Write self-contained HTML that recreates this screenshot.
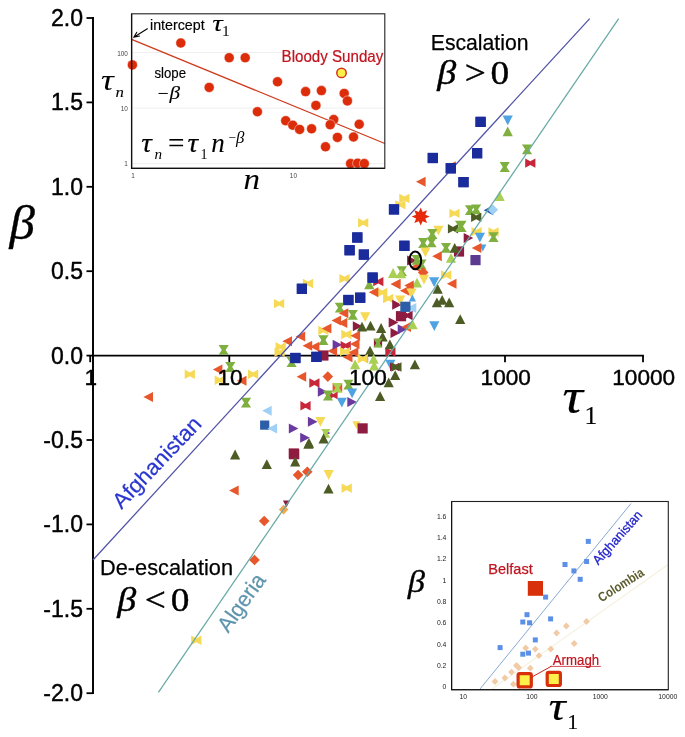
<!DOCTYPE html>
<html lang="en"><head><meta charset="utf-8"><title>Escalation plot</title>
<style>html,body{margin:0;padding:0;background:#fff}svg{display:block}text{white-space:pre}.s{font-family:"Liberation Sans",sans-serif}.r{font-family:"Liberation Serif",serif}</style></head>
<body>
<svg width="685" height="737" viewBox="0 0 685 737">
<rect width="685" height="737" fill="#fff"/>
<line x1="93" y1="17.1" x2="93" y2="694.1" stroke="#000" stroke-width="1.95"/>
<line x1="92.2" y1="355.6" x2="643.9" y2="355.6" stroke="#000" stroke-width="1.9"/>
<line x1="86.5" y1="18.0" x2="93" y2="18.0" stroke="#000" stroke-width="1.8"/>
<text x="83.0" y="25.9" font-size="23.0" class="s" fill="#000" text-anchor="end" stroke="#000" stroke-width="0.42" stroke-linejoin="round" >2.0</text>
<line x1="86.5" y1="102.4" x2="93" y2="102.4" stroke="#000" stroke-width="1.8"/>
<text x="83.0" y="110.3" font-size="23.0" class="s" fill="#000" text-anchor="end" stroke="#000" stroke-width="0.42" stroke-linejoin="round" >1.5</text>
<line x1="86.5" y1="186.8" x2="93" y2="186.8" stroke="#000" stroke-width="1.8"/>
<text x="83.0" y="194.7" font-size="23.0" class="s" fill="#000" text-anchor="end" stroke="#000" stroke-width="0.42" stroke-linejoin="round" >1.0</text>
<line x1="86.5" y1="271.2" x2="93" y2="271.2" stroke="#000" stroke-width="1.8"/>
<text x="83.0" y="279.1" font-size="23.0" class="s" fill="#000" text-anchor="end" stroke="#000" stroke-width="0.42" stroke-linejoin="round" >0.5</text>
<line x1="86.5" y1="355.6" x2="93" y2="355.6" stroke="#000" stroke-width="1.8"/>
<text x="83.0" y="363.5" font-size="23.0" class="s" fill="#000" text-anchor="end" stroke="#000" stroke-width="0.42" stroke-linejoin="round" >0.0</text>
<line x1="86.5" y1="440.0" x2="93" y2="440.0" stroke="#000" stroke-width="1.8"/>
<text x="83.0" y="447.9" font-size="23.0" class="s" fill="#000" text-anchor="end" stroke="#000" stroke-width="0.42" stroke-linejoin="round" >-0.5</text>
<line x1="86.5" y1="524.4" x2="93" y2="524.4" stroke="#000" stroke-width="1.8"/>
<text x="83.0" y="532.3" font-size="23.0" class="s" fill="#000" text-anchor="end" stroke="#000" stroke-width="0.42" stroke-linejoin="round" >-1.0</text>
<line x1="86.5" y1="608.8" x2="93" y2="608.8" stroke="#000" stroke-width="1.8"/>
<text x="83.0" y="616.7" font-size="23.0" class="s" fill="#000" text-anchor="end" stroke="#000" stroke-width="0.42" stroke-linejoin="round" >-1.5</text>
<line x1="86.5" y1="693.2" x2="93" y2="693.2" stroke="#000" stroke-width="1.8"/>
<text x="83.0" y="701.1" font-size="23.0" class="s" fill="#000" text-anchor="end" stroke="#000" stroke-width="0.42" stroke-linejoin="round" >-2.0</text>
<line x1="90.2" y1="355.6" x2="90.2" y2="362.2" stroke="#000" stroke-width="1.8"/>
<line x1="229.3" y1="355.6" x2="229.3" y2="362.2" stroke="#000" stroke-width="1.8"/>
<line x1="367.2" y1="355.6" x2="367.2" y2="362.2" stroke="#000" stroke-width="1.8"/>
<line x1="505" y1="355.6" x2="505" y2="362.2" stroke="#000" stroke-width="1.8"/>
<line x1="643" y1="355.6" x2="643" y2="362.2" stroke="#000" stroke-width="1.8"/>
<polygon points="446.2,166.2 455.8,161.2 455.8,171.2" fill="#e8562b"/>
<rect x="475.5" y="116.8" width="10.2" height="10.2" fill="#1a2b9b"/>
<rect x="427.7" y="152.9" width="10.2" height="10.2" fill="#1a2b9b"/>
<rect x="472.0" y="148.1" width="10.2" height="10.2" fill="#1a2b9b"/>
<rect x="445.7" y="163.2" width="10.2" height="10.2" fill="#1a2b9b"/>
<rect x="458.4" y="177.0" width="10.2" height="10.2" fill="#1a2b9b"/>
<polygon points="416.0,181.7 425.6,176.7 425.6,186.7" fill="#e8562b"/>
<polygon points="507.7,126.4 512.8,136.2 502.6,136.2" fill="#7fb03f"/>
<polygon points="507.7,125.3 512.8,115.5 502.6,115.5" fill="#4fa3e3"/>
<polygon points="521.9,144.4 532.1,144.4 528.9,149.3 532.1,154.2 521.9,154.2 525.1,149.3" fill="#7fb03f"/>
<polygon points="499.6,162.1 509.8,162.1 506.6,167.0 509.8,171.9 499.6,171.9 502.8,167.0" fill="#7fb03f"/>
<polygon points="525.2,158.4 530.3,161.2 535.4,158.4 535.4,167.8 530.3,165.0 525.2,167.8" fill="#c8263a"/>
<polygon points="499.6,191.1 504.7,200.9 494.5,200.9" fill="#a9cf54"/>
<polygon points="395.3,200.2 400.4,203.0 405.5,200.2 405.5,209.6 400.4,206.8 395.3,209.6" fill="#f6d955"/>
<polygon points="399.3,193.8 404.4,196.6 409.5,193.8 409.5,203.2 404.4,200.4 399.3,203.2" fill="#f6d955"/>
<rect x="388.9" y="204.3" width="10.2" height="10.2" fill="#1a2b9b"/>
<polygon points="464.9,205.2 475.1,205.2 471.9,210.1 475.1,215.0 464.9,215.0 468.1,210.1" fill="#7fb03f"/>
<polygon points="471.1,204.4 481.3,204.4 478.1,209.3 481.3,214.2 471.1,214.2 474.3,209.3" fill="#7fb03f"/>
<polygon points="449.4,208.7 454.5,211.5 459.6,208.7 459.6,218.1 454.5,215.3 449.4,218.1" fill="#f6d955"/>
<polygon points="483.6,210.2 493.2,205.2 493.2,215.2" fill="#2d5fa8"/>
<polygon points="492.8,204.4 498.1,209.7 492.8,215.0 487.5,209.7" fill="#9fd0f5"/>
<polygon points="471.1,212.7 476.2,215.5 481.3,212.7 481.3,222.1 476.2,219.3 471.1,222.1" fill="#4d5c24"/>
<polygon points="447.9,224.1 453.0,226.9 458.1,224.1 458.1,233.5 453.0,230.7 447.9,233.5" fill="#4d5c24"/>
<polygon points="454.9,220.7 466.7,220.7 463.0,226.3 466.7,231.9 454.9,231.9 458.6,226.3" fill="#7fb03f"/>
<polygon points="438.4,235.5 443.5,225.7 433.3,225.7" fill="#f6d955"/>
<polygon points="427.2,229.1 437.4,229.1 434.2,234.0 437.4,238.9 427.2,238.9 430.4,234.0" fill="#7fb03f"/>
<polygon points="418.1,238.1 428.3,238.1 425.1,243.0 428.3,247.9 418.1,247.9 421.3,243.0" fill="#7fb03f"/>
<polygon points="426.5,237.5 436.7,237.5 433.5,242.4 436.7,247.3 426.5,247.3 429.7,242.4" fill="#7fb03f"/>
<polygon points="471.5,226.9 476.6,229.7 481.7,226.9 481.7,236.3 476.6,233.5 471.5,236.3" fill="#f6d955"/>
<polygon points="488.4,227.3 493.5,230.1 498.6,227.3 498.6,236.7 493.5,233.9 488.4,236.7" fill="#f6d955"/>
<polygon points="488.4,232.2 498.6,232.2 495.4,237.1 498.6,242.0 488.4,242.0 491.6,237.1" fill="#7fb03f"/>
<polygon points="479.9,242.6 485.0,232.8 474.8,232.8" fill="#4fa3e3"/>
<polygon points="473.3,238.0 463.7,233.0 463.7,243.0" fill="#8e1b40"/>
<rect x="399.3" y="240.7" width="10.2" height="10.2" fill="#1a2b9b"/>
<rect x="453.9" y="246.4" width="10.2" height="10.2" fill="#8e1b40"/>
<polygon points="440.9,242.9 451.1,242.9 447.9,247.8 451.1,252.7 440.9,252.7 444.1,247.8" fill="#7fb03f"/>
<polygon points="482.8,251.4 486.4,244.6 479.2,244.6" fill="#4fa3e3"/>
<polygon points="471.8,248.0 481.4,243.0 481.4,253.0" fill="#e8562b"/>
<polygon points="454.7,242.9 459.8,252.7 449.6,252.7" fill="#4d5c24"/>
<polygon points="425.4,257.3 430.5,247.5 420.3,247.5" fill="#f6d955"/>
<polygon points="432.2,256.2 441.8,251.2 441.8,261.2" fill="#e8562b"/>
<polygon points="451.0,253.0 456.1,262.8 445.9,262.8" fill="#a9cf54"/>
<rect x="470.4" y="255.0" width="10.2" height="10.2" fill="#5b3a92"/>
<polygon points="410.5,267.0 420.1,262.0 420.1,272.0" fill="#e8562b"/>
<polygon points="416.7,260.6 407.1,255.6 407.1,265.6" fill="#8e1b40"/>
<polygon points="411.5,255.0 421.7,255.0 418.5,259.9 421.7,264.8 411.5,264.8 414.7,259.9" fill="#7fb03f"/>
<polygon points="416.4,259.6 426.6,259.6 423.4,264.5 426.6,269.4 416.4,269.4 419.6,264.5" fill="#7fb03f"/>
<polygon points="396.8,266.3 407.0,266.3 403.8,271.2 407.0,276.1 396.8,276.1 400.0,271.2" fill="#7fb03f"/>
<polygon points="423.2,267.2 428.5,272.5 423.2,277.8 417.9,272.5" fill="#e8562b"/>
<polygon points="441.1,270.3 446.2,273.1 451.3,270.3 451.3,279.7 446.2,276.9 441.1,279.7" fill="#f6d955"/>
<polygon points="446.9,283.7 456.5,278.7 456.5,288.7" fill="#e8562b"/>
<polygon points="424.0,284.6 429.1,274.8 418.9,274.8" fill="#f6d955"/>
<polygon points="434.1,287.1 439.2,277.3 429.0,277.3" fill="#4fa3e3"/>
<polygon points="417.0,277.7 422.1,287.5 411.9,287.5" fill="#a9cf54"/>
<polygon points="404.2,285.4 413.8,280.4 413.8,290.4" fill="#e8562b"/>
<polygon points="390.8,284.2 400.4,279.2 400.4,289.2" fill="#e8562b"/>
<polygon points="437.7,283.9 442.8,293.7 432.6,293.7" fill="#4d5c24"/>
<polygon points="393.1,268.1 398.2,277.9 388.0,277.9" fill="#a9cf54"/>
<polygon points="401.1,268.4 406.2,278.2 396.0,278.2" fill="#a9cf54"/>
<polygon points="358.1,218.1 363.2,220.9 368.3,218.1 368.3,227.5 363.2,224.7 358.1,227.5" fill="#f6d955"/>
<rect x="352.2" y="232.4" width="10.2" height="10.2" fill="#1a2b9b"/>
<rect x="344.5" y="245.1" width="10.2" height="10.2" fill="#1a2b9b"/>
<rect x="358.8" y="249.5" width="10.2" height="10.2" fill="#1a2b9b"/>
<polygon points="339.4,273.9 344.5,276.7 349.6,273.9 349.6,283.3 344.5,280.5 339.4,283.3" fill="#f6d955"/>
<polygon points="302.9,278.8 308.0,281.6 313.1,278.8 313.1,288.2 308.0,285.4 302.9,288.2" fill="#f6d955"/>
<rect x="296.8" y="283.7" width="10.2" height="10.2" fill="#1a2b9b"/>
<polygon points="369.3,279.5 374.4,289.3 364.2,289.3" fill="#7fb03f"/>
<polygon points="373.2,276.9 378.3,279.7 383.4,276.9 383.4,286.3 378.3,283.5 373.2,286.3" fill="#c8263a"/>
<rect x="367.5" y="272.5" width="10.2" height="10.2" fill="#1a2b9b"/>
<polygon points="274.0,298.9 279.1,301.7 284.2,298.9 284.2,308.3 279.1,305.5 274.0,308.3" fill="#f6d955"/>
<rect x="343.3" y="294.9" width="10.2" height="10.2" fill="#1a2b9b"/>
<rect x="355.1" y="292.6" width="10.2" height="10.2" fill="#1a2b9b"/>
<polygon points="334.8,302.8 345.0,302.8 341.8,307.7 345.0,312.6 334.8,312.6 338.0,307.7" fill="#7fb03f"/>
<polygon points="338.7,313.3 348.3,308.3 348.3,318.3" fill="#e8562b"/>
<polygon points="347.7,309.9 357.9,309.9 354.7,314.8 357.9,319.7 347.7,319.7 350.9,314.8" fill="#7fb03f"/>
<polygon points="331.5,320.5 341.1,315.5 341.1,325.5" fill="#e8562b"/>
<polygon points="337.7,323.0 347.3,318.0 347.3,328.0" fill="#e8562b"/>
<polygon points="318.3,325.7 323.4,328.5 328.5,325.7 328.5,335.1 323.4,332.3 318.3,335.1" fill="#f6d955"/>
<polygon points="321.8,328.6 331.4,323.6 331.4,333.6" fill="#e8562b"/>
<polygon points="295.6,336.5 305.2,331.5 305.2,341.5" fill="#e8562b"/>
<polygon points="282.4,341.3 292.0,336.3 292.0,346.3" fill="#e8562b"/>
<polygon points="323.4,336.7 327.5,344.5 319.3,344.5" fill="#4d5c24"/>
<polygon points="318.3,335.3 328.5,335.3 325.3,340.2 328.5,345.1 318.3,345.1 321.5,340.2" fill="#7fb03f"/>
<polygon points="302.6,345.7 312.2,340.7 312.2,350.7" fill="#e8562b"/>
<polygon points="309.8,346.8 319.4,341.8 319.4,351.8" fill="#e8562b"/>
<polygon points="327.5,351.0 337.1,346.0 337.1,356.0" fill="#e8562b"/>
<polygon points="342.2,344.8 332.6,339.8 332.6,349.8" fill="#6b3aa0"/>
<polygon points="340.6,340.9 345.7,343.7 350.8,340.9 350.8,350.3 345.7,347.5 340.6,350.3" fill="#c8263a"/>
<polygon points="341.3,329.8 346.4,332.6 351.5,329.8 351.5,339.2 346.4,336.4 341.3,339.2" fill="#f6d955"/>
<polygon points="350.5,335.7 360.1,330.7 360.1,340.7" fill="#e8562b"/>
<polygon points="349.9,344.1 359.5,339.1 359.5,349.1" fill="#e8562b"/>
<polygon points="340.0,346.9 345.1,349.7 350.2,346.9 350.2,356.3 345.1,353.5 340.0,356.3" fill="#f6d955"/>
<polygon points="348.8,352.2 358.4,347.2 358.4,357.2" fill="#e8562b"/>
<polygon points="275.6,342.1 280.7,344.9 285.8,342.1 285.8,351.5 280.7,348.7 275.6,351.5" fill="#f6d955"/>
<polygon points="274.5,347.6 279.6,350.4 284.7,347.6 284.7,357.0 279.6,354.2 274.5,357.0" fill="#f6d955"/>
<polygon points="286.5,357.1 296.7,357.1 293.5,362.0 296.7,366.9 286.5,366.9 289.7,362.0" fill="#7fb03f"/>
<rect x="290.3" y="352.9" width="10.2" height="10.2" fill="#1a2b9b"/>
<rect x="318.3" y="350.4" width="10.2" height="10.2" fill="#8e1b40"/>
<rect x="311.3" y="351.8" width="10.2" height="10.2" fill="#1a2b9b"/>
<polygon points="296.6,376.8 306.2,371.8 306.2,381.8" fill="#e8562b"/>
<polygon points="327.8,371.3 333.1,376.6 327.8,381.9 322.5,376.6" fill="#e8562b"/>
<polygon points="309.3,378.3 314.4,381.1 319.5,378.3 319.5,387.7 314.4,384.9 309.3,387.7" fill="#c8263a"/>
<polygon points="365.2,322.1 370.3,312.3 360.1,312.3" fill="#f6d955"/>
<polygon points="362.4,326.2 352.8,321.2 352.8,331.2" fill="#8e1b40"/>
<polygon points="362.0,321.7 367.1,331.5 356.9,331.5" fill="#4d5c24"/>
<polygon points="370.5,320.7 375.6,330.5 365.4,330.5" fill="#4d5c24"/>
<polygon points="381.1,323.1 386.2,332.9 376.0,332.9" fill="#4d5c24"/>
<polygon points="382.6,331.7 387.7,341.5 377.5,341.5" fill="#4d5c24"/>
<polygon points="385.3,347.3 390.4,350.1 395.5,347.3 395.5,356.7 390.4,353.9 385.3,356.7" fill="#c8263a"/>
<polygon points="389.9,339.5 395.0,349.3 384.8,349.3" fill="#4d5c24"/>
<polygon points="370.0,345.7 375.1,355.5 364.9,355.5" fill="#4d5c24"/>
<rect x="373.9" y="338.9" width="8.2" height="8.2" fill="#8e1b40"/>
<polygon points="373.4,338.6 382.6,338.6 379.7,343.0 382.6,347.4 373.4,347.4 376.3,343.0" fill="#7fb03f"/>
<polygon points="398.3,322.4 388.7,317.4 388.7,327.4" fill="#8e1b40"/>
<polygon points="400.1,333.1 390.5,328.1 390.5,338.1" fill="#8e1b40"/>
<polygon points="357.7,354.1 362.8,356.9 367.9,354.1 367.9,363.5 362.8,360.7 357.7,363.5" fill="#f6d955"/>
<polygon points="355.1,359.4 360.2,369.2 350.0,369.2" fill="#a9cf54"/>
<polygon points="373.6,353.9 378.7,363.7 368.5,363.7" fill="#a9cf54"/>
<polygon points="374.2,360.7 379.3,370.5 369.1,370.5" fill="#a9cf54"/>
<polygon points="377.1,287.8 382.2,290.6 387.3,287.8 387.3,297.2 382.2,294.4 377.1,297.2" fill="#f6d955"/>
<polygon points="383.1,293.8 388.2,296.6 393.3,293.8 393.3,303.2 388.2,300.4 383.1,303.2" fill="#f6d955"/>
<polygon points="368.7,292.2 378.3,287.2 378.3,297.2" fill="#e8562b"/>
<polygon points="390.9,283.9 400.5,278.9 400.5,288.9" fill="#e8562b"/>
<polygon points="399.9,290.7 409.5,285.7 409.5,295.7" fill="#e8562b"/>
<polygon points="401.8,304.8 392.2,299.8 392.2,309.8" fill="#8e1b40"/>
<polygon points="400.2,305.4 405.3,295.6 395.1,295.6" fill="#f6d955"/>
<polygon points="411.5,298.2 416.6,288.4 406.4,288.4" fill="#f6d955"/>
<polygon points="412.4,294.6 416.0,301.4 408.8,301.4" fill="#4fa3e3"/>
<polygon points="406.7,308.0 416.3,303.0 416.3,313.0" fill="#9fd0f5"/>
<polygon points="402.4,310.8 407.5,313.6 412.6,310.8 412.6,320.2 407.5,317.4 402.4,320.2" fill="#8e1b40"/>
<rect x="395.9" y="311.1" width="10.2" height="10.2" fill="#8e1b40"/>
<rect x="400.3" y="301.7" width="10.2" height="10.2" fill="#2d5fa8"/>
<polygon points="407.3,329.3 397.7,324.3 397.7,334.3" fill="#6b3aa0"/>
<polygon points="401.4,327.0 411.0,322.0 411.0,332.0" fill="#e8562b"/>
<polygon points="412.6,319.5 417.7,329.3 407.5,329.3" fill="#a9cf54"/>
<polygon points="390.3,369.5 395.4,359.7 385.2,359.7" fill="#4fa3e3"/>
<polygon points="390.0,362.8 394.6,365.3 399.2,362.8 399.2,371.2 394.6,368.7 390.0,371.2" fill="#8e1b40"/>
<polygon points="391.3,362.3 396.4,365.1 401.5,362.3 401.5,371.7 396.4,368.9 391.3,371.7" fill="#4d5c24"/>
<polygon points="395.2,370.2 400.3,380.0 390.1,380.0" fill="#4d5c24"/>
<polygon points="388.7,377.5 393.8,387.3 383.6,387.3" fill="#4d5c24"/>
<polygon points="380.1,391.3 385.2,401.1 375.0,401.1" fill="#4d5c24"/>
<polygon points="414.9,359.4 420.0,369.2 409.8,369.2" fill="#4d5c24"/>
<polygon points="436.9,297.5 442.0,307.3 431.8,307.3" fill="#4d5c24"/>
<polygon points="442.2,294.9 447.3,304.7 437.1,304.7" fill="#4d5c24"/>
<polygon points="449.2,297.5 454.3,307.3 444.1,307.3" fill="#4d5c24"/>
<polygon points="460.2,314.2 465.3,324.0 455.1,324.0" fill="#4d5c24"/>
<polygon points="434.3,331.0 439.4,321.2 429.2,321.2" fill="#4fa3e3"/>
<polygon points="218.6,345.0 228.8,345.0 225.6,349.9 228.8,354.8 218.6,354.8 221.8,349.9" fill="#7fb03f"/>
<polygon points="225.2,362.1 235.4,362.1 232.2,367.0 235.4,371.9 225.2,371.9 228.4,367.0" fill="#7fb03f"/>
<polygon points="212.8,369.5 222.4,364.5 222.4,374.5" fill="#e8562b"/>
<polygon points="184.7,369.6 189.8,372.4 194.9,369.6 194.9,379.0 189.8,376.2 184.7,379.0" fill="#f6d955"/>
<polygon points="214.7,375.5 219.8,378.3 224.9,375.5 224.9,384.9 219.8,382.1 214.7,384.9" fill="#f6d955"/>
<polygon points="248.0,369.6 253.1,372.4 258.2,369.6 258.2,379.0 253.1,376.2 248.0,379.0" fill="#f6d955"/>
<polygon points="236.9,380.8 246.5,375.8 246.5,385.8" fill="#e8562b"/>
<polygon points="143.4,397.0 153.0,392.0 153.0,402.0" fill="#e8562b"/>
<polygon points="240.9,397.8 251.1,397.8 247.9,402.7 251.1,407.6 240.9,407.6 244.1,402.7" fill="#7fb03f"/>
<polygon points="262.1,410.8 271.7,405.8 271.7,415.8" fill="#9fd0f5"/>
<rect x="260.1" y="420.5" width="9.2" height="9.2" fill="#2d5fa8"/>
<polygon points="267.5,428.4 277.1,423.4 277.1,433.4" fill="#9fd0f5"/>
<polygon points="235.1,449.6 240.2,459.4 230.0,459.4" fill="#4d5c24"/>
<polygon points="327.4,391.8 317.8,386.8 317.8,396.8" fill="#6b3aa0"/>
<polygon points="332.6,383.3 337.4,386.0 342.2,383.3 342.2,392.3 337.4,389.6 332.6,392.3" fill="#e8562b"/>
<polygon points="332.3,382.9 342.5,382.9 339.3,387.8 342.5,392.7 332.3,392.7 335.5,387.8" fill="#a9cf54"/>
<polygon points="343.3,379.7 353.5,379.7 350.3,384.6 353.5,389.5 343.3,389.5 346.5,384.6" fill="#7fb03f"/>
<polygon points="329.4,391.7 333.5,394.0 337.6,391.7 337.6,399.3 333.5,397.0 329.4,399.3" fill="#c8263a"/>
<polygon points="322.9,390.6 333.1,390.6 329.9,395.5 333.1,400.4 322.9,400.4 326.1,395.5" fill="#7fb03f"/>
<polygon points="352.1,398.2 357.2,388.4 347.0,388.4" fill="#4fa3e3"/>
<polygon points="341.8,407.6 346.9,397.8 336.7,397.8" fill="#4fa3e3"/>
<polygon points="356.9,402.1 347.3,397.1 347.3,407.1" fill="#6b3aa0"/>
<polygon points="300.4,401.1 305.5,403.9 310.6,401.1 310.6,410.5 305.5,407.7 300.4,410.5" fill="#c8263a"/>
<polygon points="317.5,421.8 307.9,416.8 307.9,426.8" fill="#6b3aa0"/>
<polygon points="298.4,428.4 288.8,423.4 288.8,433.4" fill="#6b3aa0"/>
<polygon points="309.8,437.8 300.2,432.8 300.2,442.8" fill="#6b3aa0"/>
<polygon points="320.4,426.7 325.5,416.9 315.3,416.9" fill="#f6d955"/>
<polygon points="309.0,438.0 314.1,447.8 303.9,447.8" fill="#4d5c24"/>
<polygon points="330.4,433.0 323.6,429.5 323.6,436.5" fill="#6b3aa0"/>
<polygon points="321.2,429.0 330.4,429.0 327.5,433.4 330.4,437.8 321.2,437.8 324.1,433.4" fill="#a9cf54"/>
<polygon points="323.6,433.6 328.7,443.4 318.5,443.4" fill="#4d5c24"/>
<rect x="288.7" y="448.4" width="10.2" height="10.2" fill="#8e1b40"/>
<polygon points="356.5,429.0 360.6,421.2 352.4,421.2" fill="#f6d955"/>
<rect x="357.5" y="423.3" width="10.2" height="10.2" fill="#8e1b40"/>
<polygon points="342.9,357.2 352.5,352.2 352.5,362.2" fill="#e8562b"/>
<polygon points="266.8,459.2 271.9,469.0 261.7,469.0" fill="#4d5c24"/>
<rect x="289.1" y="449.1" width="10.2" height="10.2" fill="#8e1b40"/>
<polygon points="295.2,456.6 300.3,466.4 290.1,466.4" fill="#4d5c24"/>
<polygon points="308.4,439.0 313.5,448.8 303.3,448.8" fill="#4d5c24"/>
<polygon points="298.1,469.7 303.4,475.0 298.1,480.3 292.8,475.0" fill="#e8562b"/>
<polygon points="307.3,466.4 312.6,471.7 307.3,477.0 302.0,471.7" fill="#e8562b"/>
<polygon points="264.2,515.7 269.5,521.0 264.2,526.3 258.9,521.0" fill="#e8562b"/>
<polygon points="229.1,490.4 238.7,485.4 238.7,495.4" fill="#e8562b"/>
<polygon points="328.7,479.9 333.8,470.1 323.6,470.1" fill="#f6d955"/>
<polygon points="341.6,483.5 346.7,486.3 351.8,483.5 351.8,492.9 346.7,490.1 341.6,492.9" fill="#f6d955"/>
<polygon points="328.5,483.7 333.6,493.5 323.4,493.5" fill="#4d5c24"/>
<polygon points="283.6,504.8 288.4,509.6 283.6,514.4 278.8,509.6" fill="#f0a850"/>
<polygon points="286.5,507.3 290.1,500.5 282.9,500.5" fill="#8e1b40"/>
<polygon points="254.5,554.7 259.8,560.0 254.5,565.3 249.2,560.0" fill="#e8562b"/>
<polygon points="191.2,635.6 196.3,638.4 201.4,635.6 201.4,645.0 196.3,642.2 191.2,645.0" fill="#f6d955"/>
<line x1="93" y1="560" x2="589.7" y2="18.6" stroke="#5052a6" stroke-width="1.25"/>
<line x1="158.4" y1="692.4" x2="618.7" y2="18.6" stroke="#68aaa6" stroke-width="1.25"/>
<rect x="475.5" y="116.8" width="10.2" height="10.2" fill="#1a2b9b"/>
<rect x="427.7" y="152.9" width="10.2" height="10.2" fill="#1a2b9b"/>
<rect x="472.0" y="148.1" width="10.2" height="10.2" fill="#1a2b9b"/>
<rect x="445.7" y="163.2" width="10.2" height="10.2" fill="#1a2b9b"/>
<rect x="458.4" y="177.0" width="10.2" height="10.2" fill="#1a2b9b"/>
<rect x="388.9" y="204.3" width="10.2" height="10.2" fill="#1a2b9b"/>
<rect x="399.3" y="240.7" width="10.2" height="10.2" fill="#1a2b9b"/>
<rect x="352.2" y="232.4" width="10.2" height="10.2" fill="#1a2b9b"/>
<rect x="344.5" y="245.1" width="10.2" height="10.2" fill="#1a2b9b"/>
<rect x="358.8" y="249.5" width="10.2" height="10.2" fill="#1a2b9b"/>
<rect x="296.8" y="283.7" width="10.2" height="10.2" fill="#1a2b9b"/>
<rect x="367.5" y="272.5" width="10.2" height="10.2" fill="#1a2b9b"/>
<rect x="343.3" y="294.9" width="10.2" height="10.2" fill="#1a2b9b"/>
<rect x="355.1" y="292.6" width="10.2" height="10.2" fill="#1a2b9b"/>
<rect x="290.3" y="352.9" width="10.2" height="10.2" fill="#1a2b9b"/>
<rect x="311.3" y="351.8" width="10.2" height="10.2" fill="#1a2b9b"/>
<polygon points="420.7,207.6 422.6,212.0 427.1,210.2 425.3,214.7 429.7,216.6 425.3,218.5 427.1,223.0 422.6,221.2 420.7,225.6 418.8,221.2 414.3,223.0 416.1,218.5 411.7,216.6 416.1,214.7 414.3,210.2 418.8,212.0" fill="#e62a0a"/>
<ellipse cx="415.3" cy="260.4" rx="5.9" ry="8.8" fill="none" stroke="#000" stroke-width="2"/>
<text x="90.9" y="385.4" font-size="22.6" class="s" fill="#000" text-anchor="middle" stroke="#000" stroke-width="0.42" stroke-linejoin="round" >1</text>
<text x="230.0" y="385.4" font-size="22.6" class="s" fill="#000" text-anchor="middle" stroke="#000" stroke-width="0.42" stroke-linejoin="round" >10</text>
<text x="367.9" y="385.4" font-size="22.6" class="s" fill="#000" text-anchor="middle" stroke="#000" stroke-width="0.42" stroke-linejoin="round" >100</text>
<text x="505.7" y="385.4" font-size="22.6" class="s" fill="#000" text-anchor="middle" stroke="#000" stroke-width="0.42" stroke-linejoin="round" >1000</text>
<text x="643.7" y="385.4" font-size="22.6" class="s" fill="#000" text-anchor="middle" stroke="#000" stroke-width="0.42" stroke-linejoin="round" >10000</text>
<text font-size="48" class="r" fill="#000" font-style="italic" stroke="#000" stroke-width="0.35" stroke-linejoin="round" transform="translate(9.6 238.6) scale(1.06 1)" >β</text>
<text font-size="51" class="r" fill="#000" font-style="italic" stroke="#000" stroke-width="0.15" stroke-linejoin="round" transform="translate(562.6 413.3) scale(1.12 1)" >τ</text>
<text x="584.6" y="424.2" font-size="25.5" class="r" fill="#000" stroke="#000" stroke-width="0.2" stroke-linejoin="round" >1</text>
<text x="430.8" y="49.6" font-size="22" class="s" fill="#000" textLength="97.7" lengthAdjust="spacingAndGlyphs" stroke="#000" stroke-width="0.25" stroke-linejoin="round" >Escalation</text>
<text font-size="34" class="r" fill="#000" font-style="italic" stroke="#000" stroke-width="0.4" stroke-linejoin="round" transform="translate(437.3 83.8) scale(1.12 1)" >β</text>
<text font-size="34" class="r" fill="#000" stroke="#000" stroke-width="0.4" stroke-linejoin="round" transform="translate(464.8 83.8) scale(1.1 1)" >&gt;</text>
<text font-size="34" class="r" fill="#000" stroke="#000" stroke-width="0.4" stroke-linejoin="round" transform="translate(490.6 83.8) scale(1.1 1)" >0</text>
<text x="100" y="574.8" font-size="22" class="s" fill="#000" textLength="133" lengthAdjust="spacingAndGlyphs" stroke="#000" stroke-width="0.25" stroke-linejoin="round" >De-escalation</text>
<text font-size="34" class="r" fill="#000" font-style="italic" stroke="#000" stroke-width="0.4" stroke-linejoin="round" transform="translate(117.3 610.6) scale(1.12 1)" >β</text>
<text font-size="34" class="r" fill="#000" stroke="#000" stroke-width="0.4" stroke-linejoin="round" transform="translate(144.8 610.6) scale(1.1 1)" >&lt;</text>
<text font-size="34" class="r" fill="#000" stroke="#000" stroke-width="0.4" stroke-linejoin="round" transform="translate(170.8 610.6) scale(1.1 1)" >0</text>
<text font-size="22" class="s" fill="#2a36d0" textLength="117.4" lengthAdjust="spacingAndGlyphs" stroke="#2a36d0" stroke-width="0.2" stroke-linejoin="round" transform="translate(121.6 510) rotate(-46.3)" >Afghanistan</text>
<text font-size="22" class="s" fill="#5e94ad" textLength="66" lengthAdjust="spacingAndGlyphs" stroke="#5e94ad" stroke-width="0.2" stroke-linejoin="round" transform="translate(228.2 633.8) rotate(-54.5)" >Algeria</text>
<rect x="131.6" y="13.8" width="253.2" height="154.5" fill="#fff"/>
<line x1="131.6" y1="52.5" x2="384.8" y2="52.5" stroke="#efefef" stroke-width="1"/>
<line x1="131.6" y1="108.1" x2="384.8" y2="108.1" stroke="#efefef" stroke-width="1"/>
<line x1="131.6" y1="163.7" x2="384.8" y2="163.7" stroke="#efefef" stroke-width="1"/>
<line x1="131.6" y1="39.3" x2="384.8" y2="143.5" stroke="#cf3a1c" stroke-width="1.3"/>
<circle cx="132.4" cy="64.9" r="5" fill="#dc2c0a" stroke="#fff" stroke-width="0.45"/>
<circle cx="180.8" cy="43.0" r="5" fill="#dc2c0a" stroke="#fff" stroke-width="0.45"/>
<circle cx="229.2" cy="57.7" r="5" fill="#dc2c0a" stroke="#fff" stroke-width="0.45"/>
<circle cx="245.2" cy="57.7" r="5" fill="#dc2c0a" stroke="#fff" stroke-width="0.45"/>
<circle cx="209.2" cy="87.4" r="5" fill="#dc2c0a" stroke="#fff" stroke-width="0.45"/>
<circle cx="257.4" cy="111.7" r="5" fill="#dc2c0a" stroke="#fff" stroke-width="0.45"/>
<circle cx="277.5" cy="81.8" r="5" fill="#dc2c0a" stroke="#fff" stroke-width="0.45"/>
<circle cx="305.6" cy="91.6" r="5" fill="#dc2c0a" stroke="#fff" stroke-width="0.45"/>
<circle cx="321.4" cy="90.6" r="5" fill="#dc2c0a" stroke="#fff" stroke-width="0.45"/>
<circle cx="344.2" cy="93.4" r="5" fill="#dc2c0a" stroke="#fff" stroke-width="0.45"/>
<circle cx="347.4" cy="100.9" r="5" fill="#dc2c0a" stroke="#fff" stroke-width="0.45"/>
<circle cx="315.9" cy="105.4" r="5" fill="#dc2c0a" stroke="#fff" stroke-width="0.45"/>
<circle cx="285.7" cy="120.7" r="5" fill="#dc2c0a" stroke="#fff" stroke-width="0.45"/>
<circle cx="292.8" cy="125.2" r="5" fill="#dc2c0a" stroke="#fff" stroke-width="0.45"/>
<circle cx="299.6" cy="129.4" r="5" fill="#dc2c0a" stroke="#fff" stroke-width="0.45"/>
<circle cx="311.6" cy="128.8" r="5" fill="#dc2c0a" stroke="#fff" stroke-width="0.45"/>
<circle cx="333.7" cy="119.6" r="5" fill="#dc2c0a" stroke="#fff" stroke-width="0.45"/>
<circle cx="330.2" cy="124.7" r="5" fill="#dc2c0a" stroke="#fff" stroke-width="0.45"/>
<circle cx="359.2" cy="124.3" r="5" fill="#dc2c0a" stroke="#fff" stroke-width="0.45"/>
<circle cx="337.4" cy="137.4" r="5" fill="#dc2c0a" stroke="#fff" stroke-width="0.45"/>
<circle cx="353.5" cy="137.0" r="5" fill="#dc2c0a" stroke="#fff" stroke-width="0.45"/>
<circle cx="325.5" cy="146.8" r="5" fill="#dc2c0a" stroke="#fff" stroke-width="0.45"/>
<circle cx="350.6" cy="163.6" r="5" fill="#dc2c0a" stroke="#fff" stroke-width="0.45"/>
<circle cx="357.6" cy="163.2" r="5" fill="#dc2c0a" stroke="#fff" stroke-width="0.45"/>
<circle cx="364.3" cy="163.6" r="5" fill="#dc2c0a" stroke="#fff" stroke-width="0.45"/>
<circle cx="341.5" cy="72.9" r="4.7" fill="#fdf04a" stroke="#d8301a" stroke-width="1.5"/>
<rect x="131.6" y="13.8" width="253.2" height="154.5" fill="none" stroke="#222" stroke-width="1.1"/>
<path d="M131.6 13.8V168.3H384.8" fill="none" stroke="#111" stroke-width="1.3"/>
<text x="127.8" y="55.7" font-size="6.4" class="s" fill="#444" text-anchor="end" >100</text>
<text x="127.8" y="110.8" font-size="6.4" class="s" fill="#444" text-anchor="end" >10</text>
<text x="127.8" y="166.2" font-size="6.4" class="s" fill="#444" text-anchor="end" >1</text>
<text x="133" y="177.6" font-size="6.4" class="s" fill="#444" text-anchor="middle" >1</text>
<text x="293.4" y="177.6" font-size="6.4" class="s" fill="#444" text-anchor="middle" >10</text>
<path d="M147.3 28.7L134.6 36.7M133.8 37.3l5.7-1.3M133.8 37.3l3-5" fill="none" stroke="#000" stroke-width="1.1" stroke-linecap="round"/>
<text x="150" y="29.5" font-size="13.8" class="s" fill="#000" textLength="54.7" lengthAdjust="spacingAndGlyphs" stroke="#000" stroke-width="0.15" stroke-linejoin="round" >intercept</text>
<text font-size="23" class="r" fill="#000" font-style="italic" stroke="#000" stroke-width="0.08" stroke-linejoin="round" transform="translate(212.2 30.6) scale(1.28 1)" >τ</text>
<text x="222.3" y="36.3" font-size="14.5" class="r" fill="#000" stroke="#000" stroke-width="0.1" stroke-linejoin="round" >1</text>
<text x="154.4" y="78.4" font-size="13.8" class="s" fill="#000" textLength="31.6" lengthAdjust="spacingAndGlyphs" stroke="#000" stroke-width="0.15" stroke-linejoin="round" >slope</text>
<text x="157.5" y="100.3" font-size="20" class="r" fill="#000" >−</text>
<text font-size="19.3" class="r" fill="#000" font-style="italic" stroke="#000" stroke-width="0.1" stroke-linejoin="round" transform="translate(169.6 98.5) scale(1.1 1)" >β</text>
<text x="281.6" y="62.3" font-size="16" class="s" fill="#c0141e" textLength="101.7" lengthAdjust="spacingAndGlyphs" stroke="#c0141e" stroke-width="0.22" stroke-linejoin="round" >Bloody Sunday</text>
<text font-size="30.5" class="r" fill="#000" font-style="italic" stroke="#000" stroke-width="0.05" stroke-linejoin="round" transform="translate(100.9 90) scale(1.17 1)" >τ</text>
<text font-size="14" class="r" fill="#000" font-style="italic" stroke="#000" stroke-width="0.1" stroke-linejoin="round" transform="translate(115.4 96.9) scale(1.2 1)" >n</text>
<text font-size="27" class="r" fill="#000" font-style="italic" stroke="#000" stroke-width="0.12" stroke-linejoin="round" transform="translate(141.3 152.1) scale(1.1 1)" >τ</text>
<text font-size="14.5" class="r" fill="#000" font-style="italic" transform="translate(154.6 159.2) scale(1.05 1)" >n</text>
<text font-size="27" class="r" fill="#000" stroke="#000" stroke-width="0.1" stroke-linejoin="round" transform="translate(168.0 152.1) scale(1.08 1)" >=</text>
<text font-size="27" class="r" fill="#000" font-style="italic" stroke="#000" stroke-width="0.12" stroke-linejoin="round" transform="translate(187.4 152.1) scale(1.1 1)" >τ</text>
<text x="200.6" y="159" font-size="14" class="r" fill="#000" >1</text>
<text font-size="27" class="r" fill="#000" font-style="italic" stroke="#000" stroke-width="0.1" stroke-linejoin="round" transform="translate(211.2 152.1) scale(1.0 1)" >n</text>
<text x="228.6" y="142.4" font-size="13.5" class="r" fill="#000" >−</text>
<text font-size="16" class="r" fill="#000" font-style="italic" transform="translate(236 143.4) scale(1.05 1)" >β</text>
<text font-size="30" class="r" fill="#000" font-style="italic" stroke="#000" stroke-width="0.05" stroke-linejoin="round" transform="translate(243.6 188.7) scale(1.1 1)" >n</text>
<rect x="451.6" y="501.5" width="216.7" height="188.2" fill="#fff"/>
<line x1="480" y1="689" x2="631" y2="503.5" stroke="#86a9d4" stroke-width="1"/>
<line x1="492" y1="689" x2="667.5" y2="565" stroke="#f6f0dc" stroke-width="1.1"/>
<polygon points="562.9,626.0 566.3,622.6 569.7,626.0 566.3,629.4" fill="#f1caa6"/>
<polygon points="553.2,633.0 556.6,629.6 560.0,633.0 556.6,636.4" fill="#f1caa6"/>
<polygon points="570.8,643.5 574.2,640.1 577.6,643.5 574.2,646.9" fill="#f1caa6"/>
<polygon points="547.4,649.0 550.8,645.6 554.2,649.0 550.8,652.4" fill="#f1caa6"/>
<polygon points="522.3,648 525.7,644.6 529.1,648 525.7,651.4" fill="#f1caa6"/>
<polygon points="531.9,649.1 535.3,645.7 538.7,649.1 535.3,652.5" fill="#f1caa6"/>
<polygon points="535.6,655.7 539,652.3 542.4,655.7 539,659.1" fill="#f1caa6"/>
<polygon points="513.1,665.5 516.5,662.1 519.9,665.5 516.5,668.9" fill="#f1caa6"/>
<polygon points="515.3,667.7 518.7,664.3 522.1,667.7 518.7,671.1" fill="#f1caa6"/>
<polygon points="508.1,672.1 511.5,668.7 514.9,672.1 511.5,675.5" fill="#f1caa6"/>
<polygon points="526.9,668.2 530.3,664.8 533.7,668.2 530.3,671.6" fill="#f1caa6"/>
<polygon points="501.5,678 504.9,674.6 508.3,678 504.9,681.4" fill="#f1caa6"/>
<polygon points="491.6,681.5 495,678.1 498.4,681.5 495,684.9" fill="#f1caa6"/>
<polygon points="510.0,684.2 513.4,680.8 516.8,684.2 513.4,687.6" fill="#f1caa6"/>
<polygon points="583.1,621.5 586.5,618.1 589.9,621.5 586.5,624.9" fill="#f1caa6"/>
<rect x="585.8" y="538.9" width="5" height="5" fill="#5b90e6"/>
<rect x="562.5" y="562.0" width="5" height="5" fill="#5b90e6"/>
<rect x="584.1" y="559.0" width="5" height="5" fill="#5b90e6"/>
<rect x="571.4" y="568.4" width="5" height="5" fill="#5b90e6"/>
<rect x="577.7" y="576.8" width="5" height="5" fill="#5b90e6"/>
<rect x="543.1" y="594.6" width="5" height="5" fill="#5b90e6"/>
<rect x="524.5" y="612.2" width="5" height="5" fill="#5b90e6"/>
<rect x="520.3" y="619.5" width="5" height="5" fill="#5b90e6"/>
<rect x="527.1" y="620.3" width="5" height="5" fill="#5b90e6"/>
<rect x="548.1" y="616.4" width="5" height="5" fill="#5b90e6"/>
<rect x="532.8" y="637.4" width="5" height="5" fill="#5b90e6"/>
<rect x="497.6" y="645.1" width="5" height="5" fill="#5b90e6"/>
<rect x="520.3" y="651.7" width="5" height="5" fill="#5b90e6"/>
<rect x="526.0" y="650.6" width="5" height="5" fill="#5b90e6"/>
<rect x="527.8" y="581" width="15.2" height="14.8" fill="#d9300c"/>
<line x1="551.5" y1="666.2" x2="531" y2="677.5" stroke="#c8281c" stroke-width="1"/>
<rect x="518.1" y="673.7" width="13.2" height="13.2" rx="1.5" fill="#fdf04a" stroke="#d9300c" stroke-width="3.2"/>
<rect x="547.2" y="672.3" width="13.2" height="13.2" rx="1.5" fill="#fdf04a" stroke="#d9300c" stroke-width="3.2"/>
<rect x="451.6" y="501.5" width="216.7" height="188.2" fill="none" stroke="#222" stroke-width="1.1"/>
<path d="M451.6 501.5V689.7H668.3" fill="none" stroke="#111" stroke-width="1.15"/>
<text x="446.4" y="689.2" font-size="6.8" class="s" fill="#222" text-anchor="end" >0</text>
<text x="446.4" y="667.9" font-size="6.8" class="s" fill="#222" text-anchor="end" >0.2</text>
<text x="446.4" y="646.6" font-size="6.8" class="s" fill="#222" text-anchor="end" >0.4</text>
<text x="446.4" y="625.3" font-size="6.8" class="s" fill="#222" text-anchor="end" >0.6</text>
<text x="446.4" y="604.0" font-size="6.8" class="s" fill="#222" text-anchor="end" >0.8</text>
<text x="446.4" y="582.7" font-size="6.8" class="s" fill="#222" text-anchor="end" >1</text>
<text x="446.4" y="561.4" font-size="6.8" class="s" fill="#222" text-anchor="end" >1.2</text>
<text x="446.4" y="540.1" font-size="6.8" class="s" fill="#222" text-anchor="end" >1.4</text>
<text x="446.4" y="518.8" font-size="6.8" class="s" fill="#222" text-anchor="end" >1.6</text>
<text x="463.3" y="699.4" font-size="6.8" class="s" fill="#222" text-anchor="middle" >10</text>
<text x="531.8" y="699.4" font-size="6.8" class="s" fill="#222" text-anchor="middle" >100</text>
<text x="600.3" y="699.4" font-size="6.8" class="s" fill="#222" text-anchor="middle" >1000</text>
<text x="667.8" y="699.4" font-size="6.8" class="s" fill="#222" text-anchor="middle" >10000</text>
<text x="488.3" y="574.1" font-size="15.5" class="s" fill="#c0141e" textLength="44.4" lengthAdjust="spacingAndGlyphs" stroke="#c0141e" stroke-width="0.25" stroke-linejoin="round" >Belfast</text>
<text x="552.8" y="664.7" font-size="14" class="s" fill="#c0141e" textLength="46.3" lengthAdjust="spacingAndGlyphs" stroke="#c0141e" stroke-width="0.2" stroke-linejoin="round" >Armagh</text>
<line x1="550" y1="666.4" x2="600.8" y2="666.4" stroke="#c4202c" stroke-width="0.8"/>
<text font-size="13.2" class="s" fill="#2222cc" textLength="67" lengthAdjust="spacingAndGlyphs" stroke="#2222cc" stroke-width="0.3" stroke-linejoin="round" transform="translate(598.3 565.6) rotate(-48.3)" >Afghanistan</text>
<text font-size="13.2" class="s" fill="#5c5c2c" textLength="51.4" lengthAdjust="spacingAndGlyphs" font-weight="bold" transform="translate(601.6 602.4) rotate(-32.4)" >Colombia</text>
<text font-size="32" class="r" fill="#000" font-style="italic" stroke="#000" stroke-width="0.3" stroke-linejoin="round" transform="translate(407.8 592) scale(1.08 1)" >β</text>
<text font-size="40" class="r" fill="#000" font-style="italic" stroke="#000" stroke-width="0.2" stroke-linejoin="round" transform="translate(548.8 720) scale(1.18 1)" >τ</text>
<text x="567.6" y="728.6" font-size="21" class="r" fill="#000" stroke="#000" stroke-width="0.2" stroke-linejoin="round" >1</text>
</svg>
</body></html>
